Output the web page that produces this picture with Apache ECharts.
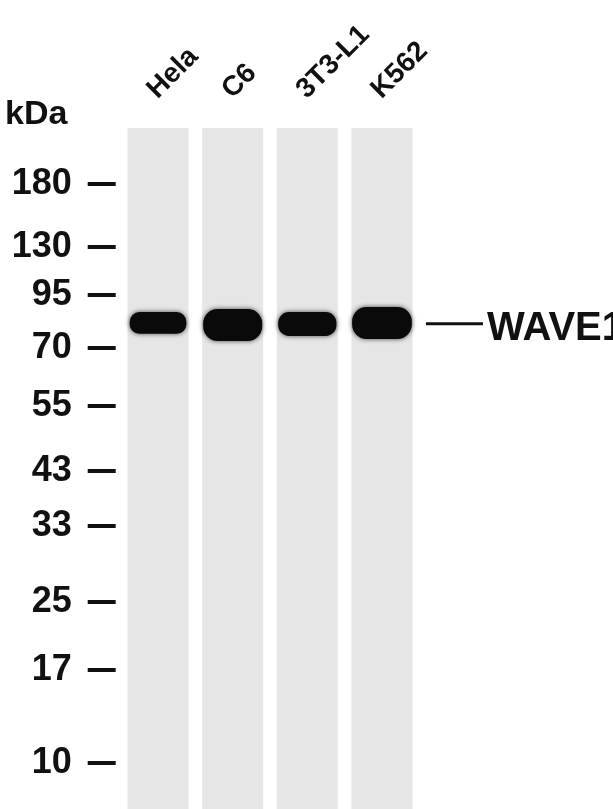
<!DOCTYPE html>
<html>
<head>
<meta charset="utf-8">
<script src="https://cdn.jsdelivr.net/npm/echarts@6/dist/echarts.min.js"></script>
<style>
  html, body { margin: 0; padding: 0; background: #ffffff; }
  #chart { width: 613px; height: 809px; }
</style>
</head>
<body>
<div id="chart"></div>
<script>
// ---- data ----
const lanes = ['Hela', 'C6', '3T3-L1', 'K562'];
// molecular weight markers (kDa) and their relative mobility in the gel (0 = lane top, 1 = lane bottom)
const markerKDa = [180, 130, 95, 70, 55, 43, 33, 25, 17, 10];
const markerMobility = [0.082, 0.175, 0.245, 0.323, 0.408, 0.504, 0.584, 0.696, 0.796, 0.932];
// WAVE1 band per lane: mobility of band centre, band thickness (mobility units), band width (fraction of lane slot)
const bandMobility = [0.2863, 0.2893, 0.2878, 0.2863];
const bandThickness = [0.032, 0.047, 0.035, 0.047];
const bandWidth = [0.76, 0.79, 0.78, 0.80];
const laneLength = [1, 1, 1, 1];
const targetName = 'WAVE1';

const chart = echarts.init(document.getElementById('chart'), null, { renderer: 'canvas' });

const mobilityToKDa = {};
markerMobility.forEach((m, i) => { mobilityToKDa[m] = markerKDa[i]; });

const bandData = lanes.map((l, i) => [i, bandMobility[i], bandThickness[i], bandWidth[i]]);

const option = {
  backgroundColor: '#ffffff',
  animation: false,
  grid: [
    { left: 120.7, right: 193.7, top: 128, bottom: 0, containLabel: false, outerBoundsMode: 'none' },
    // label-only grid, nudged left so the slanted lane names sit over their lanes
    { left: 114.7, right: 199.7, top: 128, bottom: 0, containLabel: false, outerBoundsMode: 'none' }
  ],
  xAxis: [
    {
      type: 'category',
      gridIndex: 0,
      data: lanes,
      position: 'top',
      axisLine: { show: false },
      axisTick: { show: false },
      axisLabel: { show: false },
      splitLine: { show: false }
    },
    {
      type: 'category',
      gridIndex: 1,
      data: lanes,
      position: 'top',
      axisLine: { show: false },
      axisTick: { show: false },
      splitLine: { show: false },
      axisLabel: {
        rotate: 45,
        margin: 34,
        fontSize: 28,
        fontWeight: 'bold',
        fontFamily: 'Liberation Sans',
        color: '#111111'
      }
    }
  ],
  yAxis: [
    {
      type: 'value',
      gridIndex: 0,
      min: 0,
      max: 1,
      inverse: true,
      offset: 5,
      axisLine: { show: false },
      splitLine: { show: false },
      axisTick: {
        show: true,
        length: 28,
        customValues: markerMobility,
        lineStyle: { color: '#111111', width: 4 }
      },
      axisLabel: {
        show: true,
        margin: 44,
        customValues: markerMobility,
        formatter: (v) => String(mobilityToKDa[v]),
        fontSize: 36,
        fontWeight: 'bold',
        fontFamily: 'Liberation Sans',
        color: '#111111'
      }
    },
    {
      type: 'value',
      gridIndex: 1,
      min: 0,
      max: 1,
      show: false
    }
  ],
  series: [
    {
      type: 'bar',
      data: laneLength,
      barWidth: 61,
      z: 1,
      itemStyle: { color: '#e6e6e6' },
      silent: true
    },
    {
      type: 'custom',
      data: bandData,
      z: 10,
      silent: true,
      renderItem: (params, api) => {
        const c = api.coord([api.value(0), api.value(1)]);
        const slot = api.size([1, 0])[0];
        const bw = slot * api.value(3);
        const bh = api.size([0, api.value(2)])[1];
        return {
          type: 'rect',
          z2: 10,
          shape: { x: c[0] - bw / 2, y: c[1] - bh / 2, width: bw, height: bh, r: bh * 0.45 },
          style: { fill: '#0a0a0a', opacity: 1, shadowBlur: 5, shadowColor: 'rgba(0,0,0,0.7)' }
        };
      }
    }
  ]
};
chart.setOption(option);

// side annotations, placed from the chart's own scales
const avgMob = bandMobility.reduce((a, b) => a + b, 0) / bandMobility.length;
const yBand = chart.convertToPixel({ yAxisIndex: 0 }, avgMob);
const xLast = chart.convertToPixel({ xAxisIndex: 0 }, lanes.length - 1);
const xTop = chart.convertToPixel({ yAxisIndex: 0 }, 0);
chart.setOption({
  graphic: [
    {
      type: 'text',
      style: {
        x: 5, y: xTop - 13, text: 'kDa',
        font: 'bold 34px "Liberation Sans"', fill: '#111111',
        textAlign: 'left', textVerticalAlign: 'middle'
      }
    },
    {
      type: 'line',
      shape: { x1: xLast + 44, y1: yBand, x2: xLast + 101, y2: yBand },
      style: { stroke: '#111111', lineWidth: 3 }
    },
    {
      type: 'text',
      style: {
        x: xLast + 105, y: yBand + 5, text: targetName,
        font: 'bold 40px "Liberation Sans"', fill: '#111111',
        textAlign: 'left', textVerticalAlign: 'middle'
      }
    }
  ]
});
</script>
</body>
</html>
